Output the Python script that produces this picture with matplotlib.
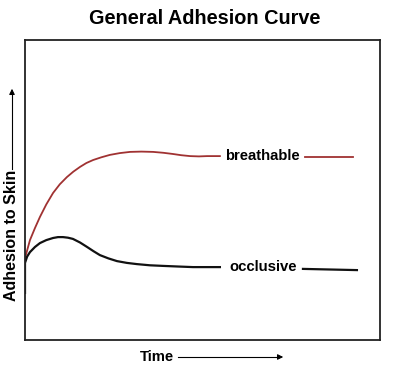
import matplotlib.pyplot as plt
import numpy as np

plt.rcParams['font.family'] = ['Liberation Sans', 'DejaVu Sans']

# curves (time 0-100, adhesion 0-100)
breath_t = [0, 0.7, 1.4, 2.8, 4.2, 6.0, 7.9, 9.8, 11.8, 13.6, 15.5, 17.3, 19.2, 21.5, 23.9,
            26.7, 29.6, 32.8, 36.1, 39.0, 41.7, 44.0, 46.5, 49.0, 51.3, 54.9]
breath_y = [27.3, 30.3, 33.3, 37.3, 41.0, 45.2, 49.0, 51.9, 54.3, 56.1, 57.7, 59.0, 60.0, 60.9, 61.7,
            62.3, 62.7, 62.8, 62.7, 62.4, 62.0, 61.6, 61.3, 61.2, 61.3, 61.3]
breath_tail_t = [78.9, 92.4]
breath_tail_y = [61.0, 61.0]

occl_t = [0, 0, 0.6, 1.4, 2.8, 4.2, 6.0, 7.9, 9.3, 10.7, 12.1, 13.5, 15.5, 17.5, 19.3, 21.1,
          23.5, 25.9, 28.7, 31.5, 35.2, 38.9, 43.0, 47.3, 54.9]
occl_y = [15.7, 25.7, 27.8, 29.3, 31.0, 32.3, 33.3, 34.0, 34.3, 34.3, 34.1, 33.7, 32.5, 31.0, 29.6, 28.3,
          27.2, 26.3, 25.7, 25.3, 24.9, 24.7, 24.5, 24.3, 24.3]
occl_tail_t = [78.3, 93.5]
occl_tail_y = [23.7, 23.3]

red = '#a03232'

fig = plt.figure(figsize=(4.01, 3.78), dpi=100)
ax = fig.add_axes([25/401, 38/378, 355/401, 300/378])

ax.plot(breath_t, breath_y, color=red, lw=1.3)
ax.plot(breath_tail_t, breath_tail_y, color=red, lw=1.3)
ax.plot(occl_t, occl_y, color='#111111', lw=1.6)
ax.plot(occl_tail_t, occl_tail_y, color='#111111', lw=1.6)

ax.text(67, 61.3, 'breathable', ha='center', va='center', fontsize=10.7, fontweight='bold')
ax.text(67, 24.3, 'occlusive', ha='center', va='center', fontsize=10.7, fontweight='bold')

ax.set_xlim(0, 100)
ax.set_ylim(0, 100)
ax.set_xticks([])
ax.set_yticks([])
for s in ax.spines.values():
    s.set_linewidth(1.3)
    s.set_color('#222222')

fig.text(205/401, 1 - 18/378, 'General Adhesion Curve', ha='center', va='center',
         fontsize=14.3, fontweight='bold')

# axis labels with arrows (figure coords)
fig.text(12/401, 1 - 235/378, 'Adhesion to Skin', rotation=90, ha='center', va='center',
         fontsize=11.5, fontweight='bold')
fig.add_artist(plt.Line2D([12/401, 12/401], [1 - 169/378, 1 - 95/378], color='black', lw=0.8))
ax.annotate('', xy=(12/401, 1 - 86/378), xytext=(12/401, 1 - 96/378), xycoords='figure fraction',
            arrowprops=dict(arrowstyle='-|>', color='black', lw=0.8, mutation_scale=8))

fig.text(157/401, 1 - 357/378, 'Time', ha='center', va='center', fontsize=10.7, fontweight='bold')
fig.add_artist(plt.Line2D([178/401, 278/401], [1 - 357/378, 1 - 357/378], color='black', lw=0.8))
ax.annotate('', xy=(286/401, 1 - 357/378), xytext=(276/401, 1 - 357/378), xycoords='figure fraction',
            arrowprops=dict(arrowstyle='-|>', color='black', lw=0.8, mutation_scale=8))

fig.savefig('out.png', dpi=100)
